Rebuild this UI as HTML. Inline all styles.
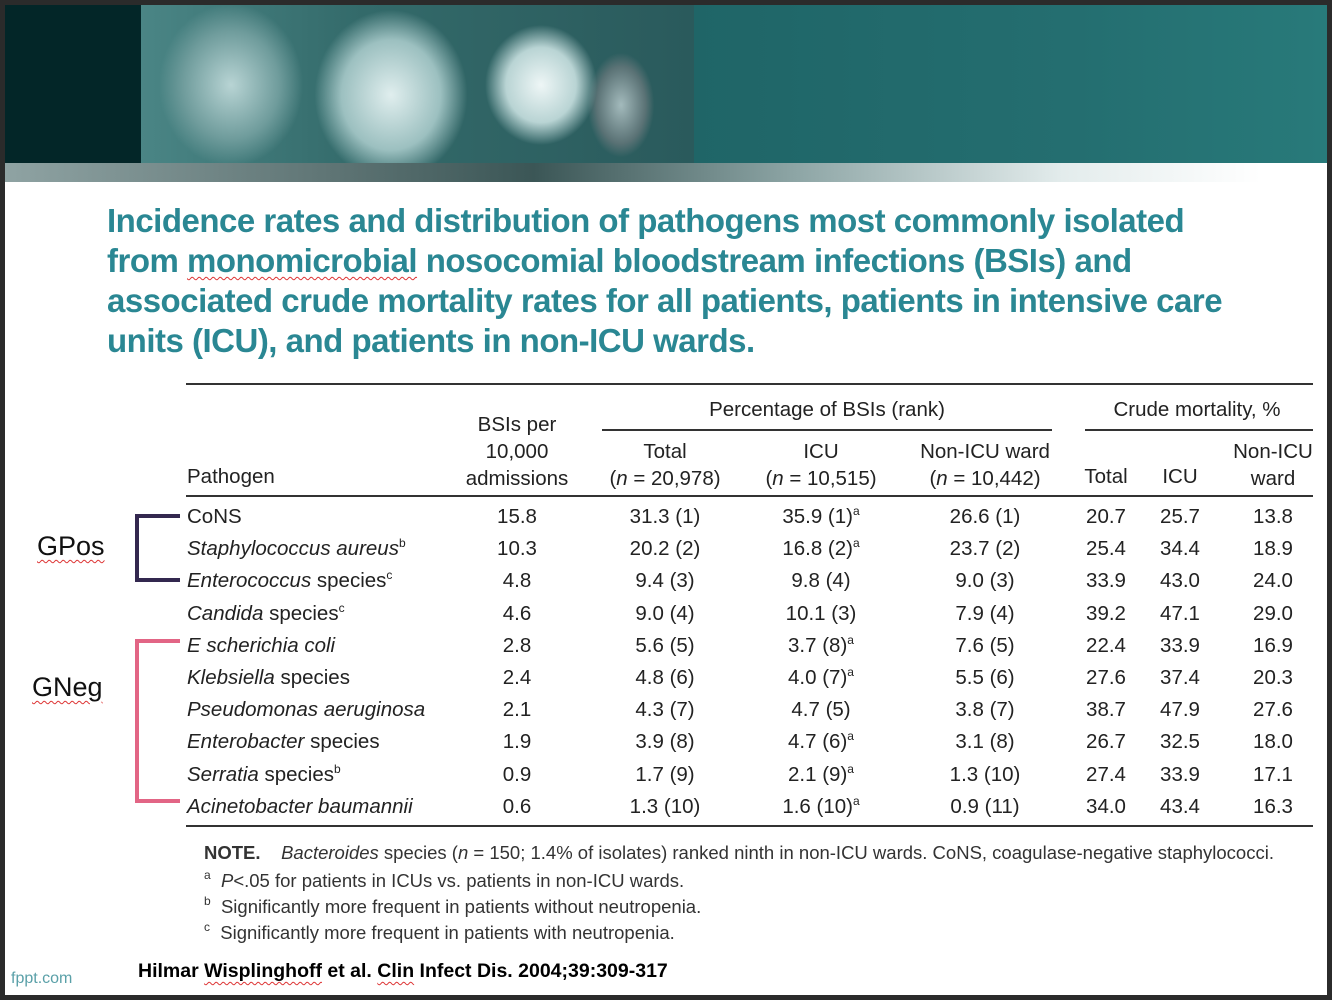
<!DOCTYPE html>
<html><head><meta charset="utf-8">
<style>
body{margin:0;width:1332px;height:1000px;background:#2b2b2b;position:relative;overflow:hidden;font-family:"Liberation Sans",sans-serif;}
#slide{position:absolute;left:5px;top:5px;width:1322px;height:990px;background:#fff;overflow:hidden;}
.a{position:absolute;white-space:nowrap;}
.t{position:absolute;white-space:nowrap;font-size:20.5px;line-height:24px;color:#222;}
.c{transform:translateX(-50%);}
.r{transform:translateX(-100%);}
.hl{position:absolute;height:2px;background:#333;}
sup{font-size:12px;vertical-align:0;position:relative;top:-8px;}
.wavy{text-decoration:underline wavy #d33;text-decoration-thickness:1px;text-underline-offset:4px;}
</style></head><body>
<div id="slide">
  <div class="a" style="left:0;top:0;width:136px;height:158px;background:#032628;"></div>
  <div class="a" style="left:136px;top:0;width:553px;height:158px;background:radial-gradient(ellipse 70px 75px at 400px 80px,#eef6f6,#b9d4d4 50%,transparent 80%),radial-gradient(ellipse 90px 100px at 250px 90px,#e0eeee,#9cc0c0 55%,transparent 85%),radial-gradient(ellipse 80px 90px at 90px 80px,#b8d4d4,#6f9c9c 60%,transparent 90%),radial-gradient(ellipse 35px 55px at 480px 100px,#a3babc,#5a7275 70%,transparent 95%),linear-gradient(90deg,#4a8585,#336a6a 40%,#2a5a5c);"></div>
  <div class="a" style="left:689px;top:0;width:633px;height:158px;background:linear-gradient(90deg,#1f6567,#246e70 60%,#287a7a);"></div>
  <div class="a" style="left:0;top:158px;width:1322px;height:19px;background:linear-gradient(90deg,#8fa3a3,#5e7474 25%,#3b5656 40%,#8ea6a6 60%,#e3ecec 80%,#fff 95%);"></div>

  <div class="a" style="left:102px;top:196px;font-size:33px;line-height:40px;font-weight:bold;color:#2a8793;letter-spacing:-0.5px;">Incidence rates and distribution of pathogens most commonly isolated<br>from <span class="wavy">monomicrobial</span> nosocomial bloodstream infections (BSIs) and<br>associated crude mortality rates for all patients, patients in intensive care<br>units (ICU), and patients in non-ICU wards.</div>

  <div class="hl" style="left:181px;top:378px;width:1127px;"></div>
  <div class="hl" style="left:597px;top:424px;width:450px;height:1.5px;"></div>
  <div class="hl" style="left:1080px;top:424px;width:228px;height:1.5px;"></div>
  <div class="hl" style="left:181px;top:490px;width:1127px;height:1.5px;"></div>
  <div class="hl" style="left:181px;top:820px;width:1127px;height:1.5px;"></div>

  <div class="t c" style="left:822px;top:393px;">Percentage of BSIs (rank)</div>
  <div class="t c" style="left:1192px;top:393px;">Crude mortality, %</div>
  <div class="t" style="left:182px;top:460px;">Pathogen</div>
  <div class="t c" style="left:512px;top:406px;text-align:center;line-height:27px;">BSIs per<br>10,000<br>admissions</div>
  <div class="t c" style="left:660px;top:433px;text-align:center;line-height:27px;">Total<br>(<i>n</i> = 20,978)</div>
  <div class="t c" style="left:816px;top:433px;text-align:center;line-height:27px;">ICU<br>(<i>n</i> = 10,515)</div>
  <div class="t c" style="left:980px;top:433px;text-align:center;line-height:27px;">Non-ICU ward<br>(<i>n</i> = 10,442)</div>
  <div class="t c" style="left:1101px;top:460px;">Total</div>
  <div class="t c" style="left:1175px;top:460px;">ICU</div>
  <div class="t c" style="left:1268px;top:433px;text-align:center;line-height:27px;">Non-ICU<br>ward</div>

  <div id="rows"></div>

  <svg class="a" style="left:125px;top:505px;" width="55" height="80"><path d="M50 6 H7 V70 H50" fill="none" stroke="#33284f" stroke-width="4"/></svg>
  <svg class="a" style="left:125px;top:630px;" width="55" height="175"><path d="M50 6 H7 V166 H50" fill="none" stroke="#e26585" stroke-width="4"/></svg>
  <div class="a" style="left:32px;top:526px;font-size:27px;line-height:30px;color:#111;"><span class="wavy">GPos</span></div>
  <div class="a" style="left:27px;top:667px;font-size:27px;line-height:30px;color:#111;"><span class="wavy">GNeg</span></div>

  <div class="a" style="left:199px;top:837px;font-size:18.5px;line-height:22px;color:#333;"><b>NOTE.</b>&nbsp;&nbsp;&nbsp; <i>Bacteroides</i> species (<i>n</i> = 150; 1.4% of isolates) ranked ninth in non-ICU wards. CoNS, coagulase-negative staphylococci.</div>
  <div class="a" style="left:199px;top:864px;font-size:18.5px;line-height:24px;color:#333;"><sup>a</sup>&nbsp; <i>P</i>&lt;.05 for patients in ICUs vs. patients in non-ICU wards.<br><sup>b</sup>&nbsp; Significantly more frequent in patients without neutropenia.<br><sup>c</sup>&nbsp; Significantly more frequent in patients with neutropenia.</div>
  <div class="a" style="left:133px;top:955px;font-size:19.5px;line-height:22px;font-weight:bold;color:#000;">Hilmar <span class="wavy">Wisplinghoff</span> et al. <span class="wavy">Clin</span> Infect Dis. 2004;39:309-317</div>
  <div class="a" style="left:6px;top:965px;font-size:16px;color:#5aa0a8;">fppt.com</div>
</div>
<script>
const names=["CoNS","<i>Staphylococcus aureus</i><sup>b</sup>","<i>Enterococcus</i> species<sup>c</sup>","<i>Candida</i> species<sup>c</sup>","<i>E scherichia coli</i>","<i>Klebsiella</i> species","<i>Pseudomonas aeruginosa</i>","<i>Enterobacter</i> species","<i>Serratia</i> species<sup>b</sup>","<i>Acinetobacter baumannii</i>"];
const bsi=["15.8","10.3","4.8","4.6","2.8","2.4","2.1","1.9","0.9","0.6"];
const pTotal=["31.3 (1)","20.2 (2)","9.4 (3)","9.0 (4)","5.6 (5)","4.8 (6)","4.3 (7)","3.9 (8)","1.7 (9)","1.3 (10)"];
const pIcu=["35.9 (1)<sup>a</sup>","16.8 (2)<sup>a</sup>","9.8 (4)","10.1 (3)","3.7 (8)<sup>a</sup>","4.0 (7)<sup>a</sup>","4.7 (5)","4.7 (6)<sup>a</sup>","2.1 (9)<sup>a</sup>","1.6 (10)<sup>a</sup>"];
const pNon=["26.6 (1)","23.7 (2)","9.0 (3)","7.9 (4)","7.6 (5)","5.5 (6)","3.8 (7)","3.1 (8)","1.3 (10)","0.9 (11)"];
const mTotal=["20.7","25.4","33.9","39.2","22.4","27.6","38.7","26.7","27.4","34.0"];
const mIcu=["25.7","34.4","43.0","47.1","33.9","37.4","47.9","32.5","33.9","43.4"];
const mNon=["13.8","18.9","24.0","29.0","16.9","20.3","27.6","18.0","17.1","16.3"];
const host=document.getElementById('rows');
function cell(html,x,y,cls,name){
  const d=document.createElement('div');
  d.className='t '+cls;
  d.innerHTML=html;
  d.style.left=x+'px';d.style.top=y+'px';
  
  
  host.appendChild(d);
}
for(let i=0;i<names.length;i++){
  const y=500+i*32.2;
  cell(names[i],182,y,'', 'pathogen-name');
  cell(bsi[i],512,y,'c','bsi-rate');
  cell(pTotal[i],660,y,'c','pct-total');
  cell(pIcu[i],816,y,'c','pct-icu');
  cell(pNon[i],980,y,'c','pct-nonicu');
  cell(mTotal[i],1101,y,'c','mort-total');
  cell(mIcu[i],1175,y,'c','mort-icu');
  cell(mNon[i],1268,y,'c','mort-nonicu');
}
</script>
</body></html>
